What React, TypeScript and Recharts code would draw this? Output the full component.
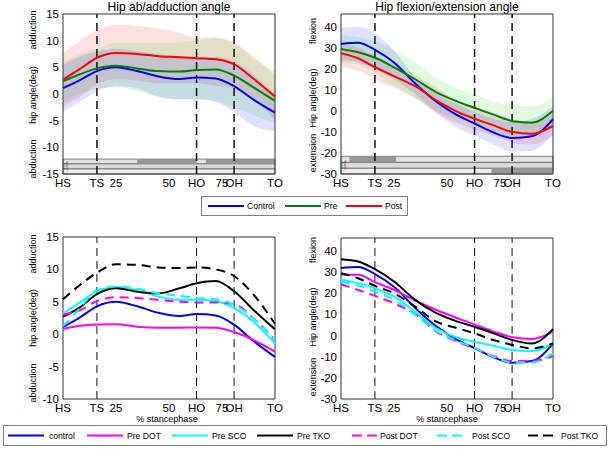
import React from "react";
import { Area, ComposedChart, Line, ReferenceArea, ReferenceLine, XAxis, YAxis } from "recharts";

const FONT = '"Liberation Sans", Arial, Helvetica, sans-serif';

// % stance phase sample points and gait events
const stance = [0, 8, 16, 25, 35, 45, 55, 63, 72, 81, 90, 100];
const xTicks = [0, 16, 25, 50, 63, 75, 80.7, 100];
const xTickLabels = ["HS", "TS", "25", "50", "HO", "75", "OH", "TO"];
const events = [16, 63, 80.7];

// hip ab/adduction (deg)
const abdControl = [1.1, 2.6, 4.3, 5.0, 4.3, 3.3, 2.8, 3.1, 2.9, 1.4, -1.1, -3.5];
const abdPre = [2.4, 3.7, 4.8, 5.3, 4.8, 4.3, 4.2, 4.5, 4.6, 3.4, 1.2, -1.3];
const abdPost = [2.7, 4.7, 6.8, 7.7, 7.5, 7.1, 6.9, 6.7, 6.5, 5.5, 2.8, -0.5];
const abdControlLo = [-3.3, -1.5, 0.5, 1.5, 1.0, -0.5, -1.0, -1.0, -1.5, -3.5, -6.0, -7.0];
const abdControlHi = [5.5, 7.0, 8.0, 8.5, 8.0, 7.5, 7.0, 7.0, 7.0, 6.0, 3.5, 0.0];
const abdPreLo = [-1.5, 0.0, 1.0, 1.3, 0.5, -0.5, -1.0, -1.0, -1.3, -2.5, -4.0, -5.5];
const abdPreHi = [6.0, 7.5, 8.5, 9.5, 9.5, 9.5, 9.8, 10.0, 10.5, 9.5, 6.5, 4.5];
const abdPostLo = [-2.3, -0.5, 1.8, 2.7, 2.5, 2.0, 2.0, 2.0, 1.5, 1.0, -1.0, -5.0];
const abdPostHi = [7.8, 10.0, 12.0, 13.0, 12.8, 12.3, 11.5, 10.5, 10.6, 9.5, 7.0, 3.5];

// hip flexion/extension (deg)
const flxControl = [31.8, 32.3, 29.0, 23.0, 13.0, 4.3, -2.2, -6.0, -10.3, -12.9, -12.1, -4.0];
const flxPre = [29.4, 27.8, 25.2, 20.7, 15.0, 8.8, 4.4, 1.4, -1.8, -4.9, -5.6, 0.0];
const flxPost = [27.4, 25.0, 20.7, 16.5, 11.7, 5.0, -0.5, -3.7, -6.9, -10.1, -10.9, -7.2];
const flxControlLo = [24, 23, 20, 15, 8, -1, -8, -12, -16, -19.5, -19, -11];
const flxControlHi = [39.4, 40, 37, 28.6, 16, 8, 3, -0.5, -3.7, -5.3, -3.7, 2];
const flxPreLo = [23, 22, 18, 12, 6, 0, -4, -6, -9, -12, -12, -7];
const flxPreHi = [36, 35, 33, 29, 23, 15.7, 10.5, 7.8, 4.5, 2.6, 2.2, 6.6];
const flxPostLo = [21, 19, 15, 11, 6, -1, -6, -9, -12, -15, -16, -12];
const flxPostHi = [32, 30, 26, 22, 17, 11, 5, 2, -1, -4, -5, -2];

// significance rows (x ranges in % stance), one list per row
const abdSig = [[[35, 63], [67.5, 100]], [], []];
const flxSig = [[[4, 26]], [], [[71, 100]]];
const sigLabels = ["C-Pre", "C-Post", "Pre-Post"];

// subgroup curves, ab/adduction
const abdPreDot = [0.8, 1.3, 1.5, 1.55, 1.15, 1.0, 1.0, 1.05, 1.0, 0.3, -0.9, -2.7];
const abdPreSco = [3.2, 4.9, 6.6, 7.3, 6.8, 5.8, 5.3, 5.3, 5.1, 4.0, 1.9, -1.4];
const abdPreTko = [2.7, 4.15, 6.2, 7.1, 6.55, 6.3, 7.1, 7.85, 8.2, 6.55, 3.7, 0.75];
const abdPostDot = [3.0, 3.7, 5.1, 5.7, 5.6, 5.3, 5.0, 4.9, 4.9, 4.6, 2.4, -0.9];
const abdPostSco = [1.2, 4.0, 6.8, 7.35, 7.0, 6.3, 5.95, 5.6, 5.4, 4.5, 2.4, -0.9];
const abdPostTko = [5.4, 7.6, 9.5, 10.8, 10.7, 10.3, 10.2, 10.3, 10.0, 8.9, 6.05, 1.6];

// subgroup curves, flexion/extension
const flxPreDot = [28.6, 28.6, 25.2, 21.5, 16.5, 12.0, 8.1, 5.2, 1.8, -0.9, -1.7, 1.8];
const flxPreSco = [26.3, 24.7, 22.3, 18.4, 11.0, 3.4, -1.1, -3.0, -4.9, -6.9, -7.4, -3.8];
const flxPreTko = [36.0, 34.9, 31.3, 25.5, 16.8, 10.5, 6.5, 4.1, 1.0, -2.2, -3.8, 3.0];
const flxPostDot = [24.2, 21.5, 18.7, 15.2, 10.0, 1.8, -3.0, -6.1, -9.8, -12.1, -12.0, -9.8];
const flxPostSco = [25.5, 23.5, 20.7, 16.8, 9.7, 2.1, -2.7, -5.8, -10.1, -12.8, -12.8, -8.5];
const flxPostTko = [29.4, 27.0, 23.4, 19.9, 13.6, 6.5, 3.4, 1.0, -2.2, -4.5, -6.1, -3.8];

const groupNames = ["Control", "Pre", "Post"];
const groupColors = ["#0000ff", "#008000", "#ff0000"];
const subNames = ["control", "Pre DOT", "Pre SCO", "Pre TKO", "Post DOT", "Post SCO", "Post TKO"];
const subColors = ["#0000ff", "#ff00ff", "#00ffff", "#000000", "#ff00ff", "#00ffff", "#000000"];
const subDashed = [false, false, false, false, true, true, true];

function buildRows(cols: Record<string, number[]>) {
  return stance.map((x, i) => {
    const row: Record<string, number> = { x };
    Object.keys(cols).forEach((k) => (row[k] = cols[k][i]));
    return row;
  });
}

const abdRows = buildRows({
  c: abdControl, pre: abdPre, post: abdPost,
  cLo: abdControlLo, cHi: abdControlHi, preLo: abdPreLo, preHi: abdPreHi, postLo: abdPostLo, postHi: abdPostHi,
});
const flxRows = buildRows({
  c: flxControl, pre: flxPre, post: flxPost,
  cLo: flxControlLo, cHi: flxControlHi, preLo: flxPreLo, preHi: flxPreHi, postLo: flxPostLo, postHi: flxPostHi,
});
const abdSubRows = buildRows({
  s0: abdControl, s1: abdPreDot, s2: abdPreSco, s3: abdPreTko, s4: abdPostDot, s5: abdPostSco, s6: abdPostTko,
});
const flxSubRows = buildRows({
  s0: flxControl, s1: flxPreDot, s2: flxPreSco, s3: flxPreTko, s4: flxPostDot, s5: flxPostSco, s6: flxPostTko,
});

const groupLines = [
  { key: "c", color: groupColors[0] },
  { key: "pre", color: groupColors[1] },
  { key: "post", color: groupColors[2] },
];
const groupBands = [
  { lo: "postLo", hi: "postHi", color: "#ff0000" },
  { lo: "preLo", hi: "preHi", color: "#00dd00" },
  { lo: "cLo", hi: "cHi", color: "#0000ff" },
];
const subLines = subNames.map((_, i) => ({ key: "s" + i, color: subColors[i], dashed: subDashed[i] }));

const tickStyle = { fill: "#000", fontSize: 11.5, fontFamily: FONT };

function Panel(props: any) {
  const { left, top, width, height, margin, rows, yDomain, yTicks, lines, bands = [], sig = [], sigY = [], eventWidth } = props;
  return (
    <div style={{ position: "absolute", left, top }}>
      <ComposedChart width={width} height={height} data={rows} margin={margin}>
        <XAxis
          dataKey="x"
          type="number"
          domain={[0, 100]}
          ticks={xTicks}
          interval={0}
          tickFormatter={(v: number) => xTickLabels[xTicks.indexOf(v)]}
          tick={tickStyle}
          tickLine={false}
          axisLine={false}
          height={16}
          tickSize={3}
          tickMargin={2}
        />
        <YAxis
          type="number"
          domain={yDomain}
          ticks={yTicks}
          interval={0}
          tick={tickStyle}
          tickLine={false}
          axisLine={false}
          width={30}
          tickSize={2}
          tickMargin={2}
          allowDataOverflow
        />
        {bands.map((b: any) => (
          <Area
            key={b.lo}
            dataKey={(d: any) => [d[b.lo], d[b.hi]]}
            type="monotone"
            stroke="none"
            fill={b.color}
            fillOpacity={0.12}
            isAnimationActive={false}
          />
        ))}
        {sigY.map((r: any, i: number) => (
          <ReferenceArea key={"row" + i} x1={0} x2={100} y1={r[0]} y2={r[1]} fill={r[2]} fillOpacity={1} stroke="#666" strokeWidth={0.8} />
        ))}
        {sig.map((segs: number[][], i: number) =>
          segs.map((s, j) => (
            <ReferenceArea key={"sig" + i + "-" + j} x1={s[0]} x2={s[1]} y1={sigY[i][0]} y2={sigY[i][1]} fill="#969696" fillOpacity={1} stroke="none" />
          ))
        )}
        <ReferenceArea x1={0} x2={100} y1={yDomain[0]} y2={yDomain[1]} fill="none" stroke="#333" strokeWidth={1} />
        {events.map((e) => (
          <ReferenceLine key={e} x={e} stroke="#111" strokeWidth={eventWidth} strokeDasharray="8 5" />
        ))}
        {lines.map((l: any) => (
          <Line
            key={l.key}
            dataKey={l.key}
            type="monotone"
            stroke={l.color}
            strokeWidth={2}
            strokeDasharray={l.dashed ? "9 6" : undefined}
            dot={false}
            isAnimationActive={false}
          />
        ))}
      </ComposedChart>
    </div>
  );
}

function VText({ x, y, text, size = 9 }: any) {
  return (
    <div
      style={{
        position: "absolute",
        left: x,
        top: y,
        transform: "translate(-50%, -50%) rotate(-90deg)",
        whiteSpace: "nowrap",
        fontSize: size,
        lineHeight: 1,
        fontFamily: FONT,
        color: "#000",
      }}
    >
      {text}
    </div>
  );
}

function HText({ x, y, text, size = 11 }: any) {
  return (
    <div
      style={{
        position: "absolute",
        left: x,
        top: y,
        transform: "translate(-50%, -50%)",
        whiteSpace: "nowrap",
        fontSize: size,
        lineHeight: 1,
        fontFamily: FONT,
        color: "#000",
      }}
    >
      {text}
    </div>
  );
}

function LegendBox({ left, top, width, height, names, colors, dashed, lineXs, textXs }: any) {
  const cy = height / 2;
  return (
    <svg style={{ position: "absolute", left, top }} width={width} height={height}>
      <rect x={0.5} y={0.5} width={width - 1} height={height - 1} fill="#fff" stroke="#808080" />
      {names.map((n: string, i: number) => {
        const isDashed = dashed && dashed[i];
        return (
          <g key={n}>
            <line
              x1={lineXs[i]}
              x2={lineXs[i] + (isDashed ? 25 : 36)}
              y1={cy}
              y2={cy}
              stroke={colors[i]}
              strokeWidth={2}
              strokeDasharray={isDashed ? "10 5" : undefined}
            />
            <text x={textXs[i]} y={cy + 3} fontSize={8.6} fontFamily={FONT} fill="#000">
              {n}
            </text>
          </g>
        );
      })}
    </svg>
  );
}

function SigLabels({ x, y }: any) {
  return (
    <>
      {sigLabels.map((s, i) => (
        <div
          key={s}
          style={{
            position: "absolute",
            left: x + i * 1.6,
            top: y,
            transform: "translate(-50%, -50%) rotate(-90deg)",
            fontSize: 2.5,
            lineHeight: 1,
            fontFamily: FONT,
            whiteSpace: "nowrap",
            color: "#222",
          }}
        >
          {s}
        </div>
      ))}
    </>
  );
}

export default function App() {
  return (
    <div style={{ position: "fixed", left: 0, top: 0, width: 609, height: 449, background: "#fff", overflow: "hidden" }}>
      <HText x={169} y={7} text="Hip ab/adduction angle" size={12} />
      <HText x={447} y={7} text="Hip flexion/extension angle" size={12} />

      <Panel
        left={0}
        top={0}
        width={300}
        height={195}
        margin={{ top: 14, right: 25, bottom: 5, left: 33 }}
        rows={abdRows}
        yDomain={[-15, 15]}
        yTicks={[-15, -10, -5, 0, 5, 10, 15]}
        lines={groupLines}
        bands={groupBands}
        sig={abdSig}
        sigY={[[-12.2, -13.1, "#e2e2e2"], [-13.1, -14.06, "#d9d9d9"], [-14.06, -15, "#ececec"]]}
        eventWidth={1.5}
      />
      <Panel
        left={300}
        top={0}
        width={309}
        height={195}
        margin={{ top: 14, right: 56, bottom: 5, left: 11 }}
        rows={flxRows}
        yDomain={[-30, 46]}
        yTicks={[-30, -20, -10, 0, 10, 20, 30, 40]}
        lines={groupLines}
        bands={groupBands}
        sig={flxSig}
        sigY={[[-21.6, -24.5, "#e2e2e2"], [-24.5, -27.3, "#d9d9d9"], [-27.3, -30, "#ececec"]]}
        eventWidth={1.5}
      />
      <Panel
        left={0}
        top={225}
        width={300}
        height={200}
        margin={{ top: 12, right: 25, bottom: 10, left: 33 }}
        rows={abdSubRows}
        yDomain={[-10, 15]}
        yTicks={[-10, -5, 0, 5, 10, 15]}
        lines={subLines}
        eventWidth={1}
      />
      <Panel
        left={300}
        top={225}
        width={309}
        height={200}
        margin={{ top: 13, right: 56, bottom: 10, left: 11 }}
        rows={flxSubRows}
        yDomain={[-30, 46]}
        yTicks={[-30, -20, -10, 0, 10, 20, 30, 40]}
        lines={subLines}
        eventWidth={1}
      />

      <SigLabels x={65} y={166} />
      <SigLabels x={343} y={165} />

      <VText x={33} y={30} text="adduction" />
      <VText x={33} y={95} text="hip angle(deg)" />
      <VText x={33} y={159} text="abduction" />
      <VText x={313} y={31} text="flexion" />
      <VText x={313} y={98} text="Hip angle(deg)" />
      <VText x={313} y={153} text="extension" />
      <VText x={33} y={254} text="adduction" />
      <VText x={33} y={318} text="hip angle(deg)" />
      <VText x={33} y={383} text="abduction" />
      <VText x={313} y={250} text="flexion" />
      <VText x={313} y={317} text="Hip angle(deg)" />
      <VText x={313} y={377} text="extension" />

      <HText x={167} y={419} text="% stancephase" size={9} />
      <HText x={447} y={419} text="% stancephase" size={9} />

      <LegendBox
        left={201}
        top={196}
        width={207}
        height={20}
        names={groupNames}
        colors={groupColors}
        lineXs={[7, 84, 145]}
        textXs={[46, 123, 184]}
      />
      <LegendBox
        left={3}
        top={425}
        width={604}
        height={21}
        names={subNames}
        colors={subColors}
        dashed={subDashed}
        lineXs={[5, 84, 169, 254, 349, 434, 525]}
        textXs={[46, 124, 209, 294, 377, 469, 558]}
      />
    </div>
  );
}
